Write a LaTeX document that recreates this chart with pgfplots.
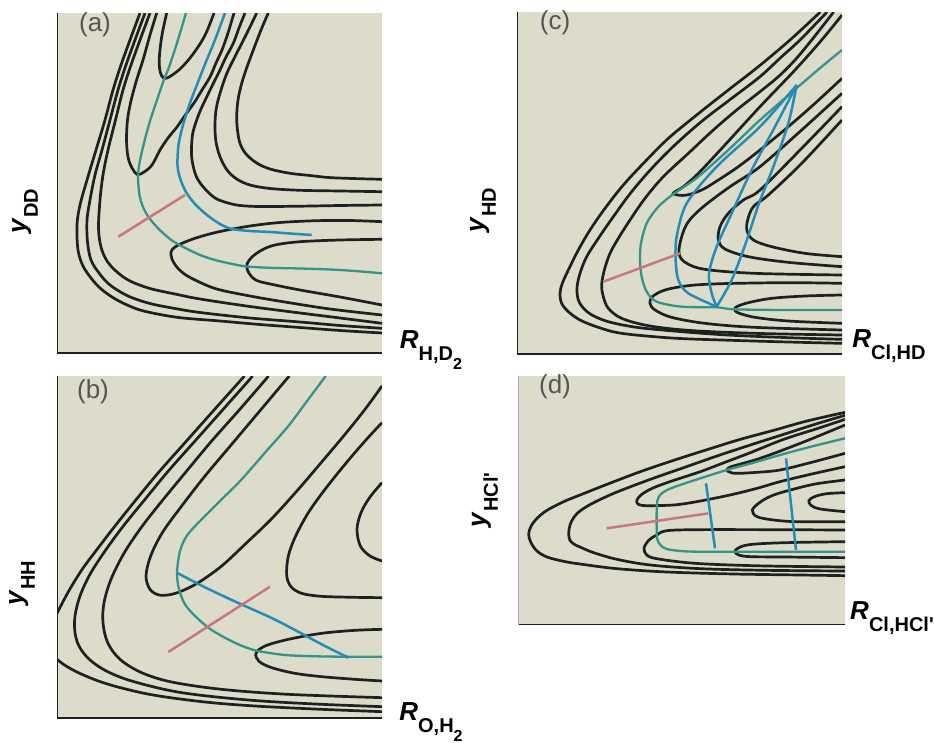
\documentclass[border=0pt]{standalone}
\usepackage{fontspec}
\setmainfont{Liberation Sans}
\usepackage{pgfplots}
\pgfplotsset{compat=1.18}
\definecolor{bgc}{RGB}{221,219,202}
\definecolor{ink}{RGB}{28,34,32}
\definecolor{tealc}{RGB}{52,148,138}
\definecolor{bluec}{RGB}{38,140,182}
\definecolor{pinkc}{RGB}{200,118,128}
\definecolor{labgray}{RGB}{85,85,85}
\pgfplotsset{
  panel/.style={scale only axis, y dir=reverse, ticks=none, axis line style={draw=none},
    axis background/.style={fill=bgc}, anchor=north west},
  cont/.style={draw=ink, line width=1.35pt, smooth, tension=0.55},
  grn/.style={draw=tealc, line width=1.15pt, smooth},
  blu/.style={draw=bluec, line width=1.25pt, smooth},
  pnk/.style={draw=pinkc, line width=1.25pt},
  axl/.style={draw=ink, line width=0.9pt},
}
\newcommand{\Lab}[2]{\textbf{\textit{#1}}\raisebox{-0.47em}{\fontsize{10}{11}\selectfont\bfseries #2}}
\newcommand{\Sub}[1]{\raisebox{-0.42em}{\fontsize{8}{9}\selectfont\bfseries #1}}
\begin{document}
\begin{tikzpicture}
\path[use as bounding box] (0,0) rectangle (467pt,-371.5pt);
% ---------------- (a) ----------------
\begin{axis}[panel, at={(28.5pt,-6.5pt)}, width=162.5pt, height=170pt,
  xmin=57, xmax=382, ymin=13, ymax=353]
\addplot[cont] coordinates {(140,13) (130,40) (121,65) (113,90) (105,120) (96,150) (87,180) (80,205) (77,225) (78,250) (83,266) (91,278) (100,288) (112,297) (125,304) (140,310) (160,314.5) (183,318) (220,321) (260,324.5) (300,327.5) (340,330.5) (382,333)};
\addplot[cont] coordinates {(145,13) (135,40) (126,65) (118,90) (110,120) (102,150) (95,175) (90,200) (87,220) (87.5,242) (91,260) (99,273) (110,285) (128,296) (150,303.5) (175,308.5) (200,312.5) (250,318) (300,322) (340,325.5) (382,328.3)};
\addplot[cont] coordinates {(150,13) (140,40) (131,65) (123,90) (115.5,120) (108,150) (103,175) (100,200) (98.5,228) (101,247) (107,261) (117,272) (130,281) (150,288.5) (175,294) (200,299) (250,306.5) (300,313) (340,318) (382,323.3)};
\addplot[cont] coordinates {(156.7,13) (150,35) (143,60) (136,82) (130.5,103) (127.5,120) (126.5,140) (128,157) (132,168) (137.5,174.5) (144,172) (152,165) (160,150) (168,138) (177,127) (186,114) (194,103) (202,90) (210,77) (216,63) (222,50) (228,33) (234,13)};
\addplot[cont] coordinates {(166.7,13) (162,35) (159.5,55) (159.5,68) (161.5,75.5) (165,78.3) (170,76.5) (180,69) (190,58) (200,44) (207,31) (214,13)};
\addplot[cont] coordinates {(268.3,13) (261,30) (253.3,50) (247,67) (241.7,83.3) (238,100) (236.7,116.7) (237.5,130) (240,143.3) (246,154) (256.7,163) (270,169) (290,173.3) (310,175.5) (333.3,177.8) (382,179.3)};
\addplot[cont] coordinates {(256.7,13) (247,33) (236.7,53.3) (227,73) (220,93.3) (216,110) (215,126.7) (216,142) (220,156.7) (227,170) (236.7,179) (250,185) (270,188.5) (300,190.3) (340,191) (382,191.7)};
\addplot[cont] coordinates {(245,13) (239,28) (233.3,43.3) (226,57) (220,70) (213,84) (206.7,97) (201,109) (196.7,120) (193,132) (191.7,143.3) (191.5,155) (193.3,166.7) (197,178) (203.3,187) (210,194) (216.7,199) (228,203) (240,205.5) (260,206.5) (300,206.2) (340,205.5) (382,205)};
\addplot[cont] coordinates {(382,221.7) (350,220.5) (316.7,220.7) (280,222.5) (250,226) (220,231.5) (200,236.7) (185,242) (175,247) (171,252) (172,259) (176,266) (183,273) (195,280) (216.7,289) (250,296) (283,301.7) (330,309) (382,315)};
\addplot[cont] coordinates {(382,239.3) (340,240) (300,241.7) (275,245) (262,250) (252,257) (247,264) (247.5,270) (251,276) (258,281) (275,285) (300,290) (340,297) (382,305)};
\addplot[grn] coordinates {(186,13) (177,43) (168,70) (164.5,78) (157,100) (150,121) (144,143) (139.5,163) (138,177) (139.5,195) (143,207) (148.3,216.7) (155,225) (163.3,233.3) (172,240.5) (183.3,247) (200,255) (215,260) (230,263.5) (246.7,266.5) (270,267.8) (300,268.5) (330,269.5) (355,271) (382,273.3)};
\addplot[blu] coordinates {(225,13) (215,40) (206.7,60) (198,82) (190,103) (183,125) (178.5,145) (177.5,165) (180,178) (186,192) (195,204) (207,215) (220,224) (232,229) (250,231) (270,232) (290,233.5) (311.7,235)};
\addplot[pnk] coordinates {(118.3,236.7) (185,195)};
\addplot[axl] coordinates {(57,13) (57,353) (382,353)};
\end{axis}
% ---------------- (c) ----------------
\begin{axis}[panel, at={(258.5pt,-6pt)}, width=162.5pt, height=171pt,
  xmin=-114, xmax=861, ymin=-84, ymax=942]
\addplot[cont] coordinates {(796,-84) (705,0) (610,80) (520,150) (425,225) (340,295) (270,365) (205,435) (150,505) (105,570) (70,630) (40,690) (22,730) (15,760) (20,790) (40,815) (75,840) (130,862) (200,880) (350,894) (500,900) (700,906) (861,910)};
\addplot[cont] coordinates {(816,-84) (735,0) (680,50) (615,110) (530,175) (445,240) (365,310) (295,380) (230,455) (175,530) (130,595) (95,650) (75,700) (66,745) (72,785) (100,818) (150,842) (220,858) (300,868) (500,884) (700,893) (861,898)};
\addplot[cont] coordinates {(836,-84) (770,0) (720,60) (670,110) (615,155) (545,210) (475,270) (400,340) (325,410) (270,475) (225,540) (190,595) (165,640) (148,690) (140,735) (145,770) (160,805) (200,835) (280,857) (400,871) (600,880) (861,885)};
\addplot[cont] coordinates {(861,-75) (800,0) (720,90) (615,200) (505,320) (430,400) (385,440) (355,460) (390,466) (440,450) (490,420) (550,380) (615,330) (700,260) (780,190) (861,115)};
\addplot[cont] coordinates {(861,160) (740,270) (615,380) (525,440) (445,500) (400,545) (380,590) (372,640) (392,668) (450,688) (600,700) (861,705)};
\addplot[cont] coordinates {(861,200) (740,325) (615,450) (565,480) (520,520) (495,560) (490,600) (510,627) (580,650) (700,667) (861,680)};
\addplot[cont] coordinates {(861,240) (740,370) (640,465) (595,500) (578,540) (576,572) (595,600) (650,620) (750,640) (861,650)};
\addplot[cont] coordinates {(861,730) (700,728) (500,731) (400,737) (330,750) (292,770) (285,790) (300,810) (350,832) (450,850) (600,862) (861,870)};
\addplot[cont] coordinates {(861,765) (750,768) (650,775) (580,788) (545,800) (540,808) (548,818) (600,832) (700,843) (861,850)};
\addplot[grn] coordinates {(861,30) (800,80) (730,140) (615,240) (520,330) (430,410) (380,445) (355,462) (310,500) (275,550) (258,610) (255,660) (260,710) (275,755) (305,785) (380,800) (485,802) (540,808) (700,810) (861,810)};
\addplot[blu] coordinates {(725,135) (615,260) (485,380) (395,490) (365,590) (362,660) (370,720) (400,760) (485,800)};
\addplot[blu] coordinates {(725,135) (660,260) (590,390) (530,520) (485,620) (462,700) (470,760) (485,800)};
\addplot[blu] coordinates {(725,135) (700,250) (655,380) (612,490) (572,610) (530,720) (485,800)};
\addplot[pnk] coordinates {(145,725) (375,640)};
\addplot[axl] coordinates {(-114,-84) (-114,942) (861,942)};
\end{axis}
% ---------------- (b) ----------------
\begin{axis}[panel, at={(28.5pt,-188pt)}, width=162.5pt, height=171pt,
  xmin=6, xmax=981, ymin=0, ymax=1026]
\addplot[cont] coordinates {(568,0) (555,15) (470,110) (390,200) (310,290) (240,375) (180,450) (130,515) (85,575) (50,630) (25,675) (6,712)};
\addplot[cont] coordinates {(6,850) (30,868) (70,890) (130,915) (200,936) (300,958) (450,978) (600,990) (800,1000) (981,1007)};
\addplot[cont] coordinates {(592,0) (580,15) (500,105) (420,195) (340,285) (270,370) (205,450) (150,525) (105,595) (75,660) (60,720) (60,770) (73,812) (105,852) (160,888) (240,918) (380,950) (580,972) (780,984) (981,992)};
\addplot[cont] coordinates {(640,0) (628,15) (550,105) (470,195) (395,285) (325,370) (262,450) (208,530) (168,610) (147,680) (144,740) (158,800) (195,850) (260,890) (350,918) (500,940) (700,955) (981,965)};
\addplot[cont] coordinates {(703,0) (690,15) (610,110) (530,205) (450,300) (380,390) (322,470) (287,540) (273,600) (285,640) (312,657) (345,656) (380,645) (430,620) (500,570) (570,505) (650,428) (730,340) (800,258) (870,175) (930,100) (981,30)};
\addplot[cont] coordinates {(981,140) (930,195) (870,265) (810,340) (760,410) (722,480) (700,540) (695,598) (708,632) (740,652) (800,661) (900,664) (981,665)};
\addplot[cont] coordinates {(981,320) (945,363) (918,410) (906,460) (916,510) (945,540) (981,555)};
\addplot[cont] coordinates {(981,760) (900,763) (800,772) (700,790) (630,810) (603,832) (612,856) (650,875) (720,892) (800,902) (900,910) (981,915)};
\addplot[grn] coordinates {(812,0) (760,70) (700,150) (630,230) (560,310) (490,380) (430,440) (395,480) (375,525) (366,590) (372,640) (390,685) (420,720) (460,755) (500,780) (550,805) (600,823) (680,836) (750,840) (850,842) (981,842)};
\addplot[blu] coordinates {(365,590) (450,634) (550,681) (650,726) (720,762) (800,805) (880,845)};
\addplot[pnk] coordinates {(340,828) (645,632)};
\addplot[axl] coordinates {(6,0) (6,1026) (981,1026)};
\end{axis}
% ---------------- (d) ----------------
\begin{axis}[panel, at={(259.25pt,-188pt)}, width=163.25pt, height=124.25pt,
  xmin=154.5, xmax=1134, ymin=15, ymax=760.5]
\addplot[cont] coordinates {(1134,124) (1020,150) (920,178) (820,205) (720,236) (620,268) (520,302) (420,340) (339,372) (290,392) (240,418) (210,442) (192,466) (185,490) (192,515) (210,540) (240,558) (290,571) (339,579) (450,593) (600,603) (800,609) (1000,612) (1134,614)};
\addplot[cont] coordinates {(1134,133) (1050,158) (950,190) (850,222) (750,255) (650,290) (550,325) (450,363) (380,395) (339,420) (320,440) (309,462) (305,488) (309,508) (322,520) (339,528) (380,545) (450,565) (550,582) (700,593) (900,598) (1134,600)};
\addplot[cont] coordinates {(1134,145) (1050,173) (950,205) (850,245) (779,272) (700,302) (639,322) (600,335) (560,350) (530,366) (514,380) (509,392) (516,401) (539,404) (600,403) (639,400) (700,390) (789,372) (870,352) (939,332) (1030,310) (1134,287)};
\addplot[cont] coordinates {(1134,162) (1030,205) (940,240) (870,265) (810,282) (790,288) (779,297) (790,304) (809,307) (870,304) (939,297) (1030,275) (1134,247)};
\addplot[cont] coordinates {(1134,327) (1050,338) (989,352) (920,372) (880,393) (856,417) (870,437) (920,447) (989,452) (1134,452)};
\addplot[cont] coordinates {(1134,365) (1080,368) (1045,376) (1026,388) (1032,403) (1060,414) (1134,422)};
\addplot[cont] coordinates {(1134,477) (900,476) (700,476) (600,479) (569,492) (545,508) (531,532) (540,553) (569,563) (650,574) (739,580) (900,585) (1134,588)};
\addplot[cont] coordinates {(1134,512) (1000,514) (900,517) (840,522) (812,532) (804,542) (815,552) (850,557) (950,558) (1134,560)};
\addplot[grn] coordinates {(1134,202) (1040,225) (939,252) (860,275) (779,297) (700,322) (639,342) (600,357) (579,372) (571,390) (569,420) (569,470) (570,502) (580,522) (599,534) (640,540) (689,542) (804,542) (950,542) (1134,542)};
\addplot[blu] coordinates {(717,337) (744,532)};
\addplot[blu] coordinates {(957,262) (987,537)};
\addplot[pnk] coordinates {(419,472) (724,427)};
\addplot[axl] coordinates {(154.5,15) (154.5,760.5) (1134,760.5)};
\end{axis}
% ---------------- labels ----------------
\begin{scope}[every node/.style={inner sep=0pt}]
\node[text=labgray, font=\fontsize{13}{15}\selectfont] at (47.5pt,-12.5pt) {(a)};
\node[text=labgray, font=\fontsize{13}{15}\selectfont] at (277.5pt,-11.5pt) {(c)};
\node[text=labgray, font=\fontsize{13}{15}\selectfont] at (46.5pt,-196pt) {(b)};
\node[text=labgray, font=\fontsize{13}{15}\selectfont] at (277.5pt,-193.5pt) {(d)};
\node[font=\fontsize{13}{15}\selectfont, rotate=90] at (12.5pt,-105.5pt) {\Lab{y}{DD}};
\node[font=\fontsize{13}{15}\selectfont] at (215.5pt,-175pt) {\Lab{R}{H,D\Sub{2}}};
\node[font=\fontsize{13}{15}\selectfont, rotate=90] at (241.5pt,-105pt) {\Lab{y}{HD}};
\node[font=\fontsize{13}{15}\selectfont] at (444.5pt,-173pt) {\Lab{R}{Cl,HD}};
\node[font=\fontsize{13}{15}\selectfont, rotate=90] at (11pt,-291.5pt) {\Lab{y}{HH}};
\node[font=\fontsize{13}{15}\selectfont] at (215.5pt,-361pt) {\Lab{R}{O,H\Sub{2}}};
\node[font=\fontsize{13}{15}\selectfont, rotate=90] at (242.5pt,-250pt) {\Lab{y}{HCl\textquotesingle}};
\node[font=\fontsize{13}{15}\selectfont] at (446pt,-309pt) {\Lab{R}{Cl,HCl\textquotesingle}};
\end{scope}
\end{tikzpicture}
\end{document}
